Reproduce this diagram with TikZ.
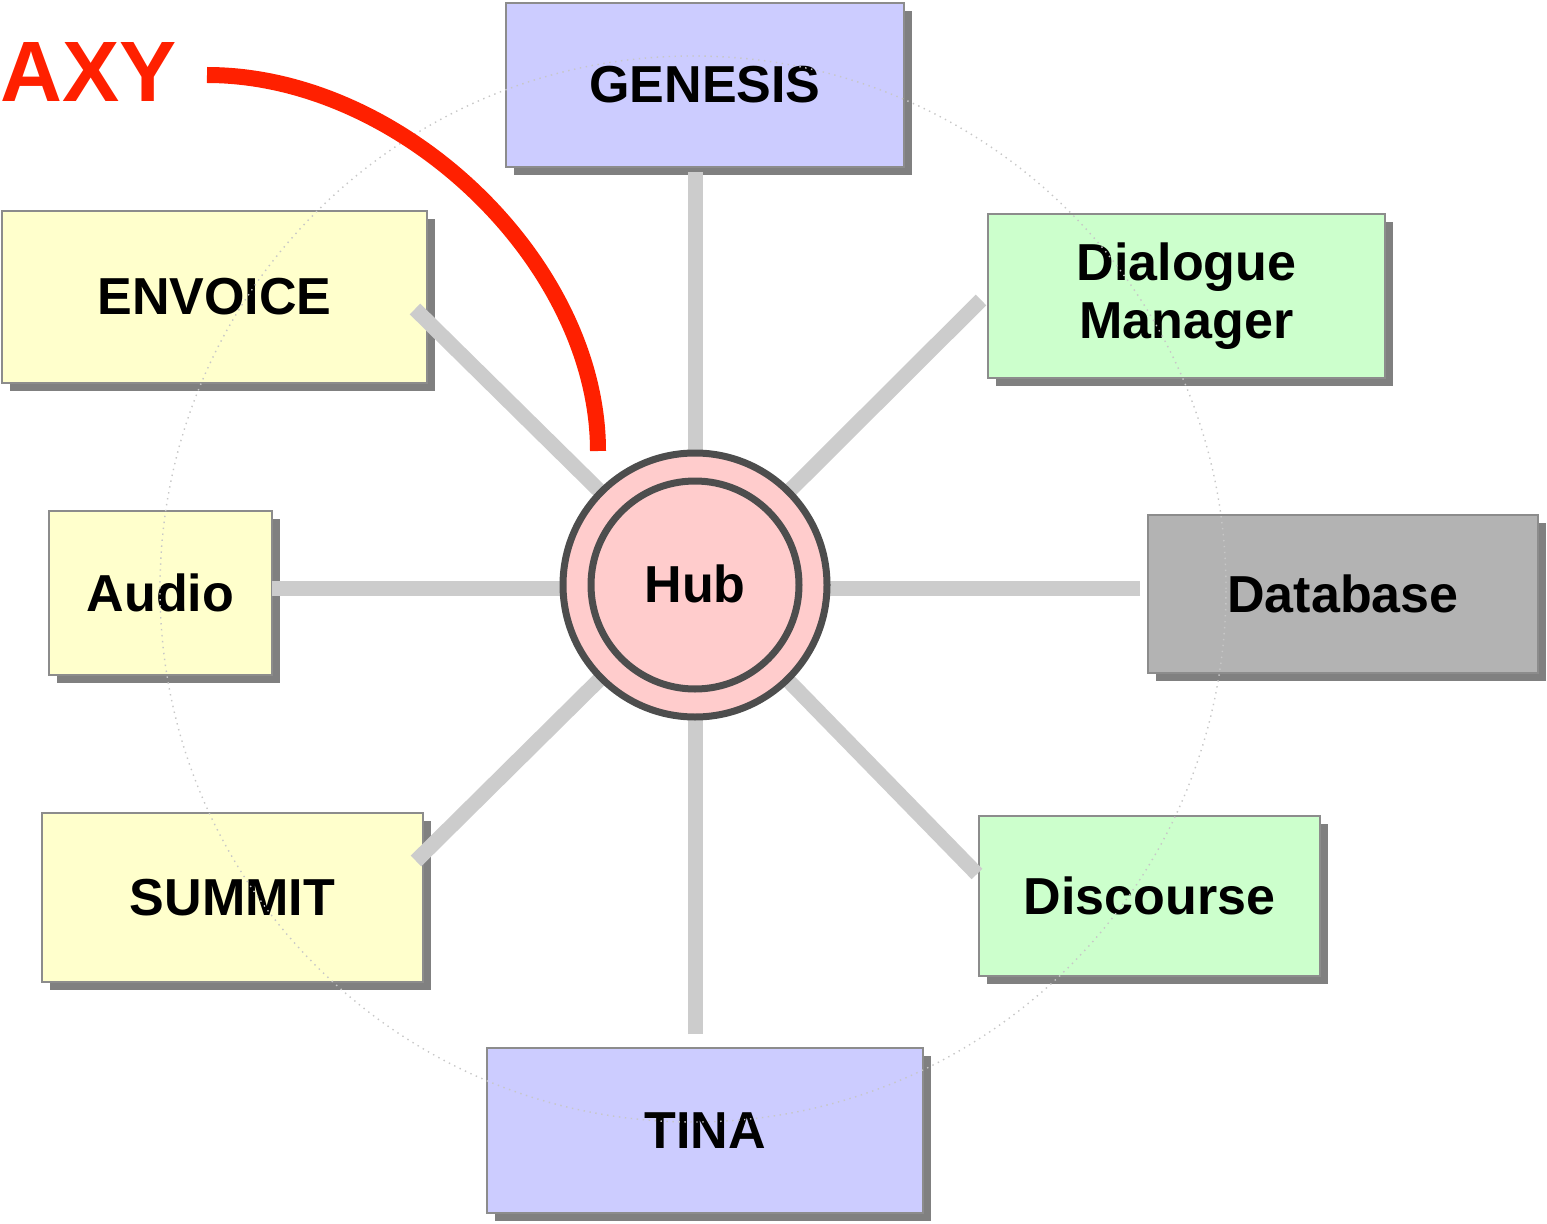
\documentclass[tikz,border=0pt]{standalone}
\usepackage{fontspec}
\setmainfont{Liberation Sans}
\usetikzlibrary{shadows}
\definecolor{modblue}{RGB}{204,204,255}
\definecolor{modyellow}{RGB}{255,255,204}
\definecolor{modgreen}{RGB}{204,255,204}
\definecolor{modgray}{RGB}{179,179,179}
\definecolor{hubpink}{RGB}{255,204,204}
\definecolor{ringgray}{RGB}{77,77,77}
\definecolor{spokegray}{RGB}{204,204,204}
\definecolor{axyred}{RGB}{255,32,0}
\newcommand{\modfont}{\fontsize{14.8pt}{15.2pt}\selectfont\bfseries}

\begin{document}
\begin{tikzpicture}[
    box/.style={rectangle, draw=black!45, line width=0.6pt, inner sep=0pt, align=center, font=\modfont,
        drop shadow={shadow xshift=0.08cm, shadow yshift=-0.08cm, fill=black!50, opacity=1}},
    bluebox/.style={box, fill=modblue},
    yellowbox/.style={box, fill=modyellow},
    greenbox/.style={box, fill=modgreen},
    graybox/.style={box, fill=modgray},
    spoke/.style={draw=spokegray, line width=0.15cm},
    ring/.style={circle, draw=ringgray, line width=0.07cm, fill=hubpink, inner sep=0pt},
    orbit/.style={draw=black!22, line width=0.4pt, dash pattern=on 0.4pt off 1.3pt},
    axyarc/.style={draw=axyred, line width=0.16cm}
]
\useasboundingbox (0,0) rectangle (15.47,-12.24);

% modules round the hub
\node[bluebox, minimum width=3.98cm, minimum height=1.64cm] (genesis) at (7.05,-0.85) {GENESIS};
\node[yellowbox, minimum width=4.25cm, minimum height=1.72cm] (envoice) at (2.145,-2.97) {ENVOICE};
\node[greenbox, minimum width=3.97cm, minimum height=1.64cm] (dialogue) at (11.865,-2.96) {\raisebox{-0.06cm}{\shortstack{Dialogue\\Manager}}};
\node[yellowbox, minimum width=2.23cm, minimum height=1.64cm] (audio) at (1.605,-5.93) {Audio};
\node[graybox, minimum width=3.90cm, minimum height=1.58cm] (database) at (13.43,-5.94) {Database};
\node[yellowbox, minimum width=3.81cm, minimum height=1.69cm] (summit) at (2.325,-8.975) {SUMMIT};
\node[greenbox, minimum width=3.41cm, minimum height=1.60cm] (discourse) at (11.495,-8.96) {Discourse};
\node[bluebox, minimum width=4.36cm, minimum height=1.65cm] (tina) at (7.05,-11.305) {TINA};

% hub in the middle
\coordinate (hubc) at (6.95,-5.85);

% spoke ends
\coordinate (genesis-end) at (6.95,-1.72);
\coordinate (tina-end) at (6.95,-10.34);
\coordinate (audio-end) at (2.72,-5.885);
\coordinate (database-end) at (11.40,-5.885);
\coordinate (envoice-end) at (4.15,-3.09);
\coordinate (dialogue-end) at (9.81,-3.00);
\coordinate (summit-end) at (4.16,-8.61);
\coordinate (discourse-end) at (9.77,-8.74);

% spokes
\draw[spoke] (genesis-end) -- (hubc);
\draw[spoke] (tina-end) -- (hubc);
\draw[spoke] (audio-end) -- (audio-end -| hubc);
\draw[spoke] (database-end) -- (database-end -| hubc);
\draw[spoke] (envoice-end) -- (hubc);
\draw[spoke] (dialogue-end) -- (hubc);
\draw[spoke] (summit-end) -- (hubc);
\draw[spoke] (discourse-end) -- (hubc);

\node[ring, minimum size=2.64cm] (hub) at (hubc) {};
\node[ring, minimum size=2.08cm, font=\modfont] (hubcore) at (hub.center) {\raisebox{0.03cm}{Hub}};

% dotted orbit
\draw[orbit] (6.93,-5.89) circle (5.33);

% AXY
\node[text=axyred, font=\fontsize{24.4pt}{25pt}\selectfont\bfseries, inner sep=0pt] (axy) at (0.885,-0.72) {AXY};
\coordinate (axy-start) at (2.07,-0.75);
\coordinate (axy-end) at (5.98,-4.51);
\draw[axyarc] (axy-start) .. controls (4.02,-0.75) and (5.98,-2.63) .. (axy-end);

\end{tikzpicture}
\end{document}
